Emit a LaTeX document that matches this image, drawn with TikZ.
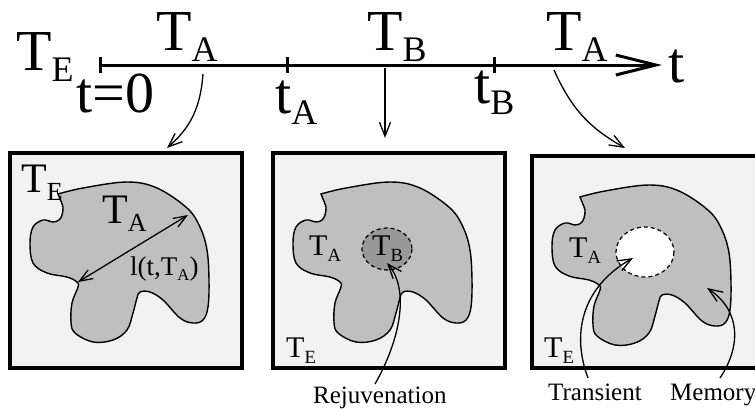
\documentclass[tikz,border=0pt]{standalone}
\usepackage{fontspec}
\setmainfont{Liberation Serif}
\usetikzlibrary{arrows.meta}
\newcommand{\withsub}[2]{#1\raisebox{-0.2em}{\scalebox{0.62}{#2}}}
% outline of the domain, relative to the top left corner of a panel
\newcommand{\domainpath}{plot[smooth, tension=0.6] coordinates {(48,41) (73,35) (117,29) (147,35) (177,55) (190,74) (197,97) (199,127) (198,154) (193,167) (183,170) (170,165) (153,147) (140,139) (130,139) (127,145) (123,160) (117,177) (103,187) (83,189) (65,180) (61,169) (62,150) (68,134) (67,129) (57,124) (37,120) (23,110) (20,90) (23,74) (33,67) (43,69) (49,67) (52,62) (53,54) (50,46) (48,41)} -- cycle}
\begin{document}
\begin{tikzpicture}[x=1pt,y=-1pt,
  lab/.style={inner sep=0pt, anchor=base west},
  huge/.style={lab, font=\fontsize{58}{60}\selectfont},
  big/.style={lab, font=\fontsize{42}{44}\selectfont},
  mid/.style={lab, font=\fontsize{30}{32}\selectfont},
  small/.style={lab, font=\fontsize{27}{29}\selectfont},
  note/.style={lab, font=\fontsize{25}{27}\selectfont},
  panel/.style={draw, line width=3.5pt, fill=black!5},
  region/.style={draw, line width=1.4pt, fill=black!25},
  spot/.style={draw, line width=1.2pt, dash pattern=on 4pt off 3pt},
  pointer/.style={line width=1.3pt, -{Straight Barb[length=14pt,width=11pt]}},
  span/.style={line width=1.3pt, {Straight Barb[length=13pt,width=10pt]}-{Straight Barb[length=13pt,width=10pt]}}]
\useasboundingbox (0,0) rectangle (755,408);
\clip (0,0) rectangle (755,408);

% time axis
\draw[line width=3pt, -{Straight Barb[length=40pt,width=20pt,line width=3pt]}] (100,65) -- (662,65);
\foreach \x in {100,287,494}
  \draw[line width=3pt] (\x,57) -- (\x,73);
\node[huge] (TE) at (16,70) {\withsub{T}{E}};
\node[huge] (TA1) at (156,50) {\withsub{T}{A}};
\node[huge] (TB) at (367,50) {\withsub{T}{B}};
\node[huge] (TA2) at (546,50) {\withsub{T}{A}};
\node[huge] (t0) at (76,112) {t=0};
\node[huge] (tA) at (275,113) {\withsub{t}{A}};
\node[huge] (tB) at (474,103) {\withsub{t}{B}};
\node[huge] (t) at (668,82) {t};

% panels
\draw[panel] (10,153) rectangle (242,368);
\draw[panel] (273,153) rectangle (505,368);
\draw[panel] (532,156) rectangle (764,368);
\draw[region, shift={(10,153)}] \domainpath;
\draw[region, shift={(273,153)}] \domainpath;
\draw[region, shift={(532,156)}] \domainpath;
\draw[spot, fill=black!40] (387,249) ellipse (25 and 21);
\draw[spot, fill=white] (645,252) ellipse (29 and 25);

% panel labels
\node[big] (pTE1) at (21,192) {\withsub{T}{E}};
\node[big] (pTA1) at (102,223) {\withsub{T}{A}};
\node[small] (len) at (130,275) {l(t,\withsub{T}{A})};
\node[mid] (pTA2) at (309,255) {\withsub{T}{A}};
\node[mid] (pTB2) at (372,255) {\withsub{T}{B}};
\node[mid] (pTE2) at (286,357) {\withsub{T}{E}};
\node[mid] (pTA3) at (569,257) {\withsub{T}{A}};
\node[mid] (pTE3) at (544,357) {\withsub{T}{E}};
\node[note] (rej) at (313,403) {Rejuvenation};
\node[note] (tra) at (548,400) {Transient};
\node[note] (mem) at (670,400) {Memory};

% connectors
\coordinate (a1) at (203,74);  \coordinate (b1) at (167,148);
\coordinate (a2) at (385,68);  \coordinate (b2) at (385,138);
\coordinate (a3) at (554,70);  \coordinate (b3) at (625,148);
\coordinate (l1) at (78,282);  \coordinate (l2) at (188,215);
\coordinate (r1) at (375,384); \coordinate (r2) at (387,263);
\coordinate (s1) at (588,378); \coordinate (s2) at (633,258);
\coordinate (m1) at (720,378); \coordinate (m2) at (707,288);
\draw[pointer] (a1) .. controls (200,115) and (185,132) .. (b1);
\draw[pointer] (a2) -- (b2);
\draw[pointer] (a3) .. controls (572,110) and (590,128) .. (b3);
\draw[span] (l1) -- (l2);
\draw[pointer] (r1) .. controls (400,340) and (410,290) .. (r2);
\draw[pointer] (s1) .. controls (570,330) and (585,285) .. (s2);
\draw[pointer] (m1) .. controls (742,345) and (740,310) .. (m2);
\end{tikzpicture}
\end{document}
